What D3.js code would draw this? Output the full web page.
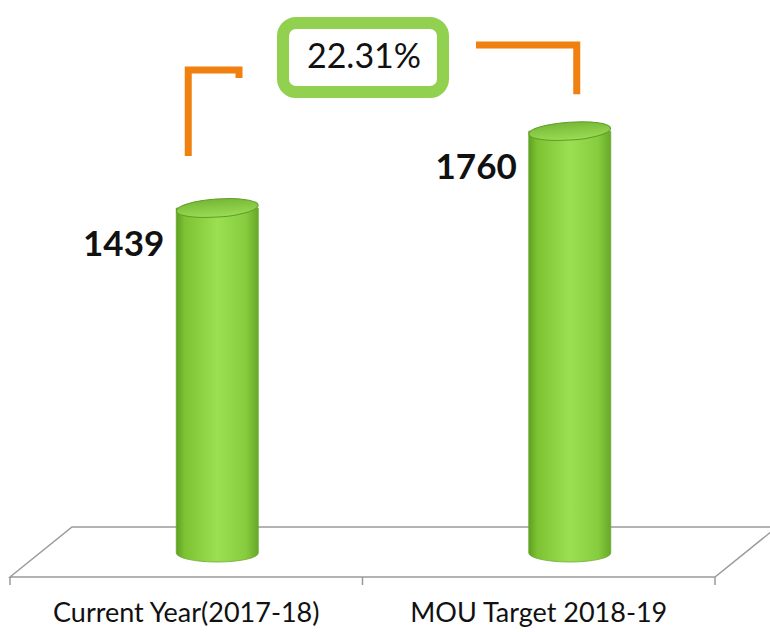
<!DOCTYPE html>
<html lang="en">
<head>
    <meta charset="UTF-8">
    <title>MOU Target</title>
    <script src="https://cdnjs.cloudflare.com/ajax/libs/d3/7.8.5/d3.min.js"></script>
    <style>
        body {
            margin: 0;
            background: #fff;
        }

        svg text {
            font-family: Lato, "Open Sans", sans-serif;
        }
    </style>
</head>
<body>
<svg id="chart" width="770" height="632"></svg>

<script>
    let categories = ["Current Year(2017-18)", "MOU Target 2018-19"];
    let values = [1439, 1760];
    let valueLabels = ["1439", "1760"];
    let growthLabel = "22.31%";

    let svg = d3.select("#chart");

    // floor geometry (front edge, depth offset)
    let floorFront = 577, floorBack = 527, depthX = 62;

    let x = d3.scaleBand().domain(categories).range([10, 715]);
    let y = d3.scaleLinear().domain([0, 2000]).range([553, 553 - 2000 * 0.2397]);

    let defs = svg.append("defs");

    let bodyGrad = defs.append("linearGradient").attr("id", "bodyGrad");
    bodyGrad.append("stop").attr("offset", "0%").attr("stop-color", "#5ea022");
    bodyGrad.append("stop").attr("offset", "10%").attr("stop-color", "#7cc232");
    bodyGrad.append("stop").attr("offset", "50%").attr("stop-color", "#9ae052");
    bodyGrad.append("stop").attr("offset", "85%").attr("stop-color", "#86cc3e");
    bodyGrad.append("stop").attr("offset", "100%").attr("stop-color", "#66a828");

    let topGrad = defs.append("linearGradient").attr("id", "topGrad")
        .attr("x1", 0).attr("y1", 0).attr("x2", 0).attr("y2", 1);
    topGrad.append("stop").attr("offset", "0%").attr("stop-color", "#76b836");
    topGrad.append("stop").attr("offset", "100%").attr("stop-color", "#9bdc55");

    // floor
    let floor = svg.append("g").attr("fill", "none").attr("stroke", "#9a9a9a").attr("stroke-width", 1.5);
    let x0 = x.range()[0], x1 = x.range()[1];
    floor.append("path")
        .attr("d", `M${x0},${floorFront} L${x0 + depthX},${floorBack} L${x1 + depthX},${floorBack} L${x1},${floorFront} Z`);
    let tickXs = [x0].concat(categories.map(c => x(c) + x.bandwidth()));
    floor.selectAll("line.tick").data(tickXs).enter().append("line")
        .attr("x1", d => d).attr("x2", d => d)
        .attr("y1", floorFront).attr("y2", floorFront + 8);

    // cylinders
    let rx = 41, ry = 9;
    let bars = svg.selectAll("g.bar").data(categories).enter().append("g").attr("class", "bar");

    bars.each(function (c, i) {
        let g = d3.select(this);
        let cx = x(c) + x.bandwidth() / 2 + depthX / 2;
        let top = y(values[i]), bottom = y(0);
        g.append("path")
            .attr("d", `M${cx - rx},${top} L${cx - rx},${bottom} A${rx},${ry} 0 0 0 ${cx + rx},${bottom} L${cx + rx},${top} Z`)
            .attr("fill", "url(#bodyGrad)")
            .attr("stroke", "#6aa82e").attr("stroke-width", 0.8);
        g.append("ellipse")
            .attr("cx", cx).attr("cy", top)
            .attr("rx", rx).attr("ry", ry)
            .attr("transform", `rotate(-4,${cx},${top})`)
            .attr("fill", "url(#topGrad)")
            .attr("stroke", "#5f9e2a").attr("stroke-width", 1);

        g.append("text")
            .attr("x", cx - rx - 12)
            .attr("y", top + 48)
            .attr("text-anchor", "end")
            .attr("font-size", 35)
            .attr("font-weight", "bold")
            .attr("fill", "#111")
            .text(valueLabels[i]);
    });

    // category labels
    svg.selectAll("text.cat").data(categories).enter().append("text")
        .attr("class", "cat")
        .attr("x", d => x(d) + x.bandwidth() / 2)
        .attr("y", 622)
        .attr("text-anchor", "middle")
        .attr("font-size", 27)
        .attr("fill", "#111")
        .text(d => d);

    // connectors
    let orange = "#f08010";
    let c1 = x(categories[0]) + x.bandwidth() / 2 + depthX / 2;
    let c2 = x(categories[1]) + x.bandwidth() / 2 + depthX / 2;
    let conn = svg.append("g").attr("fill", "none").attr("stroke", orange).attr("stroke-width", 7);
    conn.append("path").attr("d", `M${c1 - 29},${y(values[0]) - 52} V70 H239 V78`);
    conn.append("path").attr("d", `M476,45 H${c2 + 7} V${y(values[1]) - 37}`);

    // growth box
    svg.append("rect")
        .attr("x", 283).attr("y", 23)
        .attr("width", 160).attr("height", 69)
        .attr("rx", 13)
        .attr("fill", "#fff")
        .attr("stroke", "#92d050")
        .attr("stroke-width", 12);
    svg.append("text")
        .attr("x", 364).attr("y", 68)
        .attr("text-anchor", "middle")
        .attr("font-size", 34)
        .attr("fill", "#111")
        .text(growthLabel);
</script>
</body>
</html>
